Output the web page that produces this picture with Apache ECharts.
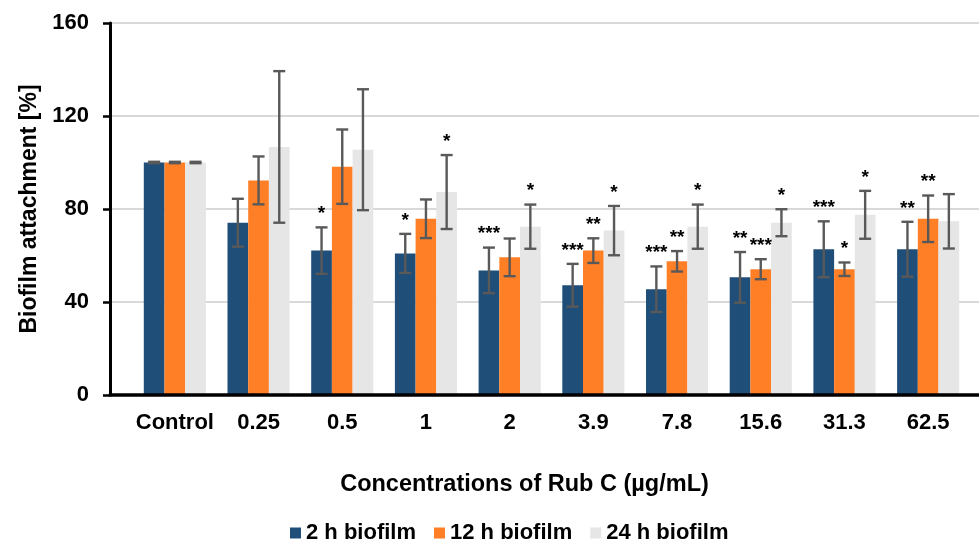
<!DOCTYPE html>
<html>
<head>
<meta charset="utf-8">
<script src="https://cdn.jsdelivr.net/npm/echarts@6/dist/echarts.min.js"></script>
<style>
html,body{margin:0;padding:0;background:#fff;}
#chart{width:979px;height:542px;}
</style>
</head>
<body>
<div id="chart"></div>
<script>
const categories = ['Control', '0.25', '0.5', '1', '2', '3.9', '7.8', '15.6', '31.3', '62.5'];
const seriesNames = ['2 h biofilm', '12 h biofilm', '24 h biofilm'];
const mean2h  = [100, 74.1, 62.1, 60.9, 53.6, 47.2, 45.5, 50.6, 62.7, 62.7];
const err2h   = [0.3, 10.3, 10.0, 8.4, 9.8, 9.2, 9.8, 10.9, 12.0, 11.8];
const mean12h = [100, 92.3, 98.2, 75.8, 59.2, 62.1, 57.5, 54.1, 54.1, 75.8];
const err12h  = [0.3, 10.3, 16.0, 8.3, 8.1, 5.3, 4.4, 4.3, 2.9, 10.0];
const mean24h = [100, 106.7, 105.5, 87.3, 72.4, 70.7, 72.4, 74.1, 77.5, 74.7];
const err24h  = [0.3, 32.6, 26.0, 15.9, 9.5, 10.6, 9.5, 5.8, 10.3, 11.7];
const stars2h  = ['', '', '*', '*', '***', '***', '***', '**', '***', '**'];
const stars12h = ['', '', '', '', '', '**', '**', '***', '*', '**'];
const stars24h = ['', '', '', '*', '*', '*', '*', '*', '*', ''];
const yTicks = [0, 40, 80, 120, 160];

const means = [mean2h, mean12h, mean24h];
const errs = [err2h, err12h, err24h];
const stars = [stars2h, stars12h, stars24h];
const colors = ['#1F4E79', '#FF7F27', '#E7E6E6'];
const FONT = '"Liberation Sans", Arial, Helvetica, sans-serif';
const BAR_W = 20.7;

const chart = echarts.init(document.getElementById('chart'), null, {renderer: 'canvas'});

const series = [];
seriesNames.forEach((name, i) => {
  series.push({
    name: name,
    type: 'bar',
    xAxisIndex: 1,
    yAxisIndex: 1,
    barWidth: BAR_W,
    barGap: '0%',
    itemStyle: {color: colors[i]},
    data: means[i],
    z: 3
  });
});
seriesNames.forEach((name, i) => {
  series.push({
    type: 'custom',
    xAxisIndex: 1,
    yAxisIndex: 1,
    z: 5,
    clip: false,
    silent: true,
    data: categories.map((c, k) => [k, means[i][k], errs[i][k]]),
    renderItem: function (params, api) {
      const k = api.value(0), m = api.value(1), e = api.value(2);
      const hi = api.coord([k, m + e]);
      const lo = api.coord([k, m - e]);
      const cx = hi[0] + (i - 1) * BAR_W;
      const cap = 6;
      const st = {stroke: '#595959', lineWidth: 2.4};
      const children = [
        {type: 'line', shape: {x1: cx, y1: hi[1], x2: cx, y2: lo[1]}, style: st},
        {type: 'line', shape: {x1: cx - cap, y1: hi[1], x2: cx + cap, y2: hi[1]}, style: st},
        {type: 'line', shape: {x1: cx - cap, y1: lo[1], x2: cx + cap, y2: lo[1]}, style: st}
      ];
      const s = stars[i][params.dataIndex];
      if (s) {
        children.push({
          type: 'text',
          style: {
            x: cx, y: hi[1] - 4, text: s,
            textAlign: 'center', textVerticalAlign: 'bottom',
            font: 'bold 19px ' + FONT, fill: '#000'
          }
        });
      }
      return {type: 'group', children: children};
    }
  });
});

chart.setOption({
  animation: false,
  backgroundColor: '#fff',
  textStyle: {fontFamily: FONT},
  legend: {
    data: seriesNames,
    left: 285,
    top: 517,
    itemWidth: 11,
    itemHeight: 11,
    itemGap: 18,
    icon: 'rect',
    textStyle: {fontFamily: FONT, fontWeight: 'bold', fontSize: 22, color: '#000'}
  },
  grid: [
    {left: 110, right: 0, top: 23, bottom: 147},
    {left: 133, right: 9, top: 23, bottom: 147}
  ],
  xAxis: [
    {
      gridIndex: 0, type: 'category', data: categories, z: 6,
      axisLine: {show: true, lineStyle: {color: '#000', width: 3.5}},
      axisTick: {show: false}, axisLabel: {show: false}, splitLine: {show: false}
    },
    {
      gridIndex: 1, type: 'category', data: categories,
      axisLine: {show: false}, axisTick: {show: false},
      axisLabel: {interval: 0, margin: 17, color: '#000', fontWeight: 'bold', fontSize: 22, fontFamily: FONT},
      name: 'Concentrations of Rub C (µg/mL)',
      nameLocation: 'middle',
      nameGap: 78,
      nameTextStyle: {color: '#000', fontWeight: 'bold', fontSize: 23.5, fontFamily: FONT, padding: [0, 54, 0, 0]}
    }
  ],
  yAxis: [
    {
      gridIndex: 0, type: 'value', min: yTicks[0], max: yTicks[yTicks.length - 1], interval: yTicks[1] - yTicks[0],
      axisLine: {show: true, lineStyle: {color: '#000', width: 3}},
      axisTick: {show: true, length: 7, lineStyle: {color: '#000', width: 2.5}},
      axisLabel: {margin: 21, color: '#000', fontWeight: 'bold', fontSize: 22, fontFamily: FONT},
      splitLine: {show: true, lineStyle: {color: '#D9D9D9', width: 2}},
      name: 'Biofilm attachment [%]',
      nameLocation: 'middle',
      nameGap: 62,
      nameTextStyle: {color: '#000', fontWeight: 'bold', fontSize: 23, fontFamily: FONT}
    },
    {
      gridIndex: 1, type: 'value', min: yTicks[0], max: yTicks[yTicks.length - 1], interval: yTicks[1] - yTicks[0],
      show: false, splitLine: {show: false}
    }
  ],
  series: series
});
</script>
</body>
</html>
